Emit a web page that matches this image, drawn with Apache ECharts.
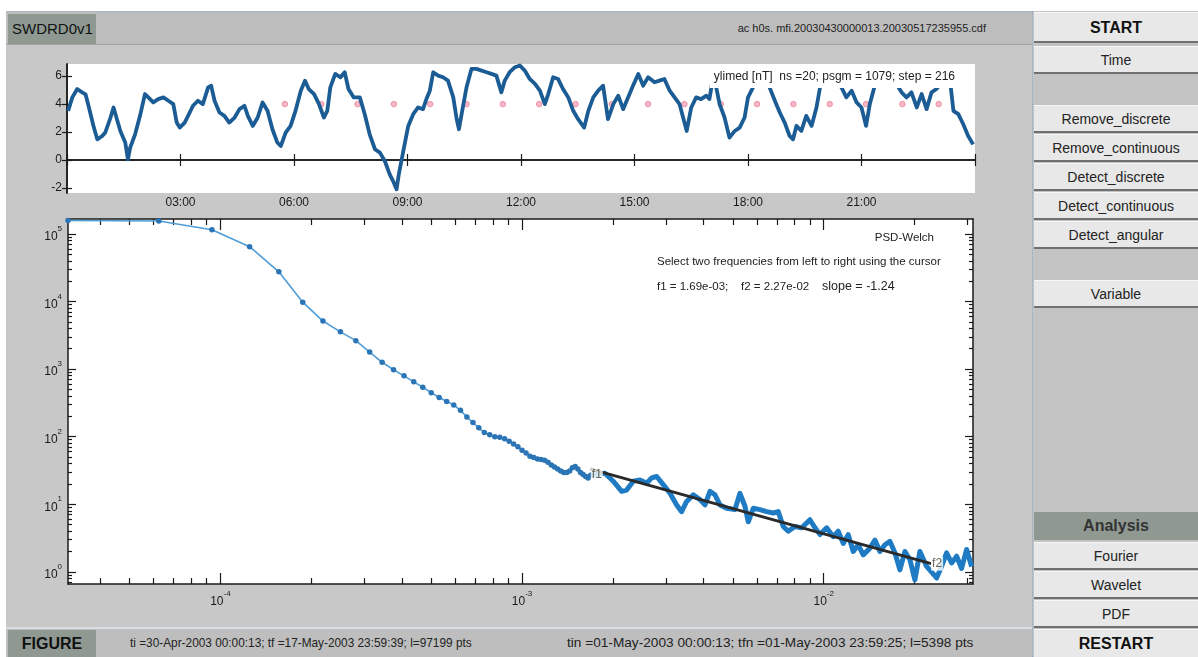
<!DOCTYPE html>
<html>
<head>
<meta charset="utf-8">
<title>SWDRD0v1</title>
<script src="https://cdn.jsdelivr.net/npm/echarts@6/dist/echarts.min.js"></script>
<style>
  html, body { margin: 0; padding: 0; background: #ffffff; overflow: hidden; }
  body { width: 1198px; height: 657px; position: relative; font-family: "Liberation Sans", Arial, sans-serif; color: #1a1a1a; }
  .abs { position: absolute; box-sizing: border-box; }
  #panel { left: 6px; top: 11px; width: 1026px; height: 616px; background: #c8c8c8; border-top: 1px solid #a9b7c4; }
  #header { left: 6px; top: 12px; width: 1026px; height: 33px; background: #bdbdbd; border-bottom: 1px solid #a4a4a4; }
  .tag { background: #8f9992; font-size: 15px; line-height: 30px; color: #111; }
  #fname { left: 600px; top: 12px; width: 386px; height: 33px; line-height: 33px; text-align: right; font-size: 11px; color: #222; }
  #status { left: 6px; top: 627px; width: 1026px; height: 30px; background: #bebebe; border-top: 2px solid #d9dee2; }
  .stat { top: 629px; height: 28px; line-height: 28px; font-size: 13px; color: #222; white-space: nowrap;
          transform-origin: left center; }
  #side { left: 1032px; top: 11px; width: 166px; height: 646px; background: #c3c3c3; border-left: 1px dotted #8fa7c2; }
  .btn { left: 1034px; width: 164px; background: #e8e8e8; border-top: 1px solid #f7f7f7; border-bottom: 2px solid #707070;
         text-align: center; font-size: 14px; color: #222; }
  .bold { font-weight: bold; font-size: 16px; color: #111; }
  #chart { left: 0; top: 0; width: 1198px; height: 657px; }
</style>
</head>
<body>
<div class="abs" id="panel"></div>
<div class="abs" id="header"></div>
<div class="abs tag" style="left:8px;top:14px;width:88px;height:30px;padding-left:4px;">SWDRD0v1</div>
<div class="abs" id="fname">ac h0s. mfi.20030430000013.20030517235955.cdf</div>

<div class="abs" id="status"></div>
<div class="abs tag bold" style="left:8px;top:630px;width:88px;height:27px;line-height:27px;text-align:center;">FIGURE</div>
<div class="abs stat" style="left:130px;transform:scaleX(0.91);">ti =30-Apr-2003 00:00:13; tf =17-May-2003 23:59:39; l=97199 pts</div>
<div class="abs stat" style="left:567px;transform:scaleX(1.05);">tin =01-May-2003 00:00:13; tfn =01-May-2003 23:59:25; l=5398 pts</div>

<div class="abs" id="side"></div>
<div class="abs btn bold" style="top:12px;height:31px;line-height:30px;">START</div>
<div class="abs btn" style="top:46px;height:28px;line-height:27px;">Time</div>
<div class="abs btn" style="top:105px;height:28px;line-height:27px;">Remove_discrete</div>
<div class="abs btn" style="top:134px;height:28px;line-height:27px;">Remove_continuous</div>
<div class="abs btn" style="top:163px;height:28px;line-height:27px;">Detect_discrete</div>
<div class="abs btn" style="top:192px;height:28px;line-height:27px;">Detect_continuous</div>
<div class="abs btn" style="top:221px;height:28px;line-height:27px;">Detect_angular</div>
<div class="abs btn" style="top:280px;height:28px;line-height:27px;">Variable</div>
<div class="abs tag bold" style="left:1034px;top:512px;width:164px;height:28px;line-height:28px;text-align:center;color:#333;">Analysis</div>
<div class="abs btn" style="top:542px;height:28px;line-height:27px;">Fourier</div>
<div class="abs btn" style="top:571px;height:28px;line-height:27px;">Wavelet</div>
<div class="abs btn" style="top:600px;height:28px;line-height:27px;">PDF</div>
<div class="abs btn bold" style="top:629px;height:28px;line-height:28px;border-bottom:none;">RESTART</div>

<div class="abs" id="chart"></div>

<script>
// ---- Field magnitude, median filtered (hours after 00:00, nT) ----
const timeHours = [
  0.03, 0.14, 0.27, 0.40, 0.49, 0.58, 0.71, 0.80, 0.93, 1.01, 1.15, 1.23, 1.32, 1.41, 1.54, 1.61, 1.67, 1.80, 1.93,
  2.06, 2.15, 2.28, 2.41, 2.55, 2.68, 2.81, 2.90, 2.98, 3.11, 3.20, 3.33, 3.46, 3.59, 3.73, 3.81, 3.90,
  4.03, 4.16, 4.29, 4.43, 4.56, 4.69, 4.78, 4.91, 5.04, 5.17, 5.30, 5.43, 5.56, 5.65, 5.78, 5.91,
  6.04, 6.18, 6.29, 6.39, 6.53, 6.66, 6.79, 6.88, 6.96, 7.09, 7.23, 7.34, 7.44, 7.58, 7.74, 7.87,
  8.00, 8.14, 8.27, 8.40, 8.53, 8.62, 8.71, 8.77, 8.89, 9.02, 9.15, 9.28, 9.41, 9.50, 9.59, 9.68, 9.81, 9.94,
  10.07, 10.21, 10.30, 10.36, 10.43, 10.56, 10.69, 10.82, 10.96, 11.09, 11.22, 11.35, 11.48, 11.57, 11.70, 11.84, 11.97,
  12.10, 12.23, 12.37, 12.50, 12.63, 12.72, 12.85, 12.98, 13.11, 13.25, 13.38, 13.51, 13.67, 13.78, 13.91,
  14.04, 14.17, 14.30, 14.44, 14.57, 14.70, 14.83, 14.96, 15.10, 15.23, 15.36, 15.53, 15.66, 15.79, 15.93,
  16.06, 16.19, 16.32, 16.38, 16.50, 16.63, 16.76, 16.90, 16.98, 17.07, 17.16, 17.25, 17.38, 17.51, 17.65, 17.78, 17.91,
  18.00, 18.09, 18.18, 18.31, 18.44, 18.57, 18.71, 18.84, 18.97, 19.10, 19.19, 19.28, 19.41, 19.54, 19.68, 19.81, 19.92, 19.99,
  20.10, 20.30, 20.47, 20.60, 20.74, 20.87, 21.00, 21.12, 21.22, 21.35, 21.49, 21.70, 21.84,
  22.06, 22.19, 22.32, 22.46, 22.59, 22.72, 22.85, 22.98, 23.16, 23.34, 23.43, 23.56, 23.69, 23.82, 23.95
];
const fieldValues = [
  3.52, 4.48, 5.08, 4.84, 4.70, 3.76, 2.32, 1.48, 1.72, 1.96, 3.04, 3.76, 2.92, 2.08, 1.25, 0.05, 0.89, 1.84, 3.16,
  4.72, 4.48, 4.12, 4.36, 4.48, 4.24, 4.00, 2.68, 2.32, 2.68, 3.16, 3.88, 4.24, 4.00, 5.20, 5.32, 4.24,
  3.40, 3.16, 2.68, 3.04, 3.64, 3.88, 3.16, 2.44, 3.04, 4.12, 3.52, 2.20, 1.25, 1.00, 1.96, 2.44,
  3.52, 4.96, 5.68, 5.08, 4.72, 4.00, 3.04, 3.52, 5.20, 6.16, 5.92, 6.28, 5.08, 4.48, 4.48, 3.28,
  1.84, 0.77, 0.53, -0.07, -1.03, -1.51, -2.10, -1.03, 0.65, 2.44, 3.28, 3.76, 3.64, 4.36, 4.96, 6.28, 6.04, 5.92,
  5.68, 4.48, 2.92, 2.20, 3.28, 5.20, 6.52, 6.52, 6.40, 6.28, 6.16, 6.04, 4.84, 5.68, 6.28, 6.64, 6.76,
  6.40, 5.80, 5.44, 4.96, 4.00, 4.72, 5.92, 5.80, 5.08, 4.48, 3.52, 2.92, 2.32, 3.52, 4.48,
  4.96, 5.32, 2.92, 4.00, 4.60, 3.64, 4.48, 5.32, 6.16, 5.32, 5.92, 5.56, 5.68, 5.80, 4.96,
  4.48, 4.00, 2.68, 2.08, 3.76, 4.48, 4.36, 4.60, 4.36, 5.80, 5.20, 4.00, 3.04, 1.60, 2.08, 2.32, 3.04,
  4.48, 4.96, 5.44, 5.32, 5.68, 5.20, 4.24, 3.40, 2.68, 1.72, 1.48, 2.44, 2.08, 3.16, 2.44, 3.76, 5.44, 5.80,
  6.00, 5.90, 5.20, 4.48, 4.96, 4.12, 3.76, 2.44, 4.00, 5.32, 5.68, 6.00, 5.80,
  4.84, 4.48, 4.84, 3.76, 4.72, 3.64, 4.84, 5.08, 5.68, 5.68, 3.52, 3.28, 2.56, 1.72, 1.12
];
// segment markers (hours) drawn at the segment level
const segmentTimes = [5.76, 6.72, 7.68, 8.64, 9.60, 10.56, 11.52, 12.48, 13.44, 14.40, 15.36, 16.32,
                      17.28, 18.24, 19.20, 20.16, 21.12, 22.08, 23.04];
const segmentLevel = 4;
const timeTicks = [3, 6, 9, 12, 15, 18, 21];
const fieldTicks = [-2, 0, 2, 4, 6];

// ---- Welch power spectral density ----
const psdBinWidth = 3.125e-5; // Hz
const psdLowBins = [1, 2, 3, 4, 5, 6, 7, 8, 9, 10, 11, 12, 13, 14, 15, 16, 17, 18, 19, 20, 21, 22, 23, 24, 25, 26, 27,
  28, 29, 30, 31, 32, 33, 34, 35, 36, 37, 38, 39, 40, 41, 42, 43, 44, 45, 46, 47, 48, 49, 50, 51, 52, 53, 54];
const psdLowPower = [158000, 155000, 115000, 64600, 27500, 9770, 5130, 3550, 2630, 1780, 1260, 977, 794, 646, 537,
  447, 380, 331, 295, 245, 195, 162, 135, 115, 107, 100, 97.7, 93.3, 85.1, 77.6, 70.8, 63.1, 57.5, 51.3, 49.0,
  46.8, 45.7, 44.7, 41.7, 38.0, 35.5, 33.1, 30.9, 29.5, 29.5, 30.9, 34.7, 36.3, 33.1, 29.5, 27.5, 25.7, 24.5, 26.9];
const psdHighFreq = [1.883e-3, 2.006e-3, 2.139e-3, 2.222e-3, 2.337e-3, 2.459e-3, 2.588e-3, 2.689e-3, 2.794e-3,
  2.939e-3, 3.093e-3, 3.255e-3, 3.381e-3, 3.512e-3, 3.694e-3, 3.888e-3, 4.040e-3, 4.196e-3, 4.360e-3, 4.530e-3,
  4.767e-3, 5.078e-3, 5.276e-3, 5.482e-3, 5.621e-3, 5.840e-3, 6.146e-3, 6.468e-3, 6.803e-3, 7.067e-3, 7.342e-3,
  7.627e-3, 8.027e-3, 8.449e-3, 9.001e-3, 9.354e-3, 9.719e-3, 1.0226e-2, 1.0755e-2, 1.1173e-2, 1.1608e-2,
  1.2058e-2, 1.2528e-2, 1.3015e-2, 1.3521e-2, 1.4230e-2, 1.4784e-2, 1.5357e-2, 1.5955e-2, 1.6576e-2, 1.7218e-2,
  1.7889e-2, 1.8586e-2, 1.9308e-2, 2.0058e-2, 2.0839e-2, 2.1938e-2, 2.3667e-2, 2.4587e-2, 2.5546e-2, 2.6544e-2,
  2.7578e-2, 2.8647e-2, 2.9763e-2, 3.0920e-2];
const psdHighPower = [28.8, 21.9, 15.5, 16.2, 21.9, 22.9, 20.4, 24.5, 25.7, 19.5, 14.5, 9.77, 7.76, 11.0, 13.8,
  11.7, 9.77, 15.5, 13.8, 9.77, 8.71, 8.32, 14.5, 9.33, 5.50, 8.71, 8.32, 7.76, 7.41, 7.76, 4.68, 3.98, 4.68,
  4.47, 5.89, 4.47, 3.55, 4.47, 3.31, 3.98, 2.63, 3.55, 2.00, 2.51, 1.78, 2.24, 2.95, 2.00, 2.51, 2.82, 1.91,
  1.07, 2.00, 1.51, 0.76, 2.00, 1.20, 0.81, 1.20, 1.91, 1.35, 1.70, 1.12, 2.14, 1.20];
const psdFreqTicks = [1e-4, 1e-3, 1e-2];
const psdPowerTicks = [1, 10, 100, 1000, 10000, 100000];

// power-law fit between the two selected frequencies
const fitF1 = 1.69e-3;
const fitF2 = 2.27e-2;
const fitSlope = -1.24;
const fitPowerAtF1 = 33.1;
const fitPowerAtF2 = fitPowerAtF1 * Math.pow(fitF2 / fitF1, fitSlope);

// ---- helpers ----
function pad2(n) { return (n < 10 ? '0' : '') + n; }
function minorLogTicks(lo, hi) {
  const out = [];
  for (let d = Math.floor(Math.log10(lo)); d <= Math.ceil(Math.log10(hi)); d++) {
    for (let m = 2; m <= 9; m++) {
      const v = m * Math.pow(10, d);
      if (v > lo && v < hi) out.push(v);
    }
  }
  return out;
}
function powerLabel(v) {
  const e = Math.round(Math.log10(v));
  return '{b|10}{e|' + e + '}';
}
function sci(v) {
  // MATLAB style exponent with two digits, e.g. 1.69e-03
  const s = v.toExponential(2).split('e');
  const exp = parseInt(s[1], 10);
  return s[0] + 'e' + (exp < 0 ? '-' : '+') + pad2(Math.abs(exp));
}
const FONT = '"Liberation Sans", Arial, sans-serif';
const INK = '#1a1a1a';
const powRich = {
  b: { fontFamily: FONT, fontSize: 12, color: INK, lineHeight: 18, verticalAlign: 'bottom' },
  e: { fontFamily: FONT, fontSize: 8, color: INK, lineHeight: 18, verticalAlign: 'top' }
};

const fieldSeries = timeHours.map((t, i) => [t, fieldValues[i]]);
const segmentSeries = segmentTimes.map(t => [t, segmentLevel]);
const psdLowSeries = psdLowBins.map((k, i) => [k * psdBinWidth, psdLowPower[i]]);
const psdHighSeries = [psdLowSeries[psdLowSeries.length - 1]].concat(psdHighFreq.map((f, i) => [f, psdHighPower[i]]));

const fMin = 3.125e-5, fMax = 3.125e-2;
const pMin = 0.66, pMax = 166000;
const fMinor = minorLogTicks(fMin, fMax);
const pMinor = minorLogTicks(pMin, pMax);

const frame = { show: true, lineStyle: { color: INK, width: 1.5 } };
const noLine = { show: false };

function timeAxis(pos, labels) {
  return {
    type: 'value', gridIndex: 0, position: pos, min: 0, max: 24, interval: 3,
    axisLine: frame, splitLine: { show: false },
    axisTick: { inside: true, length: 6, lineStyle: { color: INK, width: 1.2 } },
    axisLabel: labels ? {
      show: true, color: INK, fontFamily: FONT, fontSize: 12, margin: 4,
      customValues: timeTicks, formatter: v => pad2(v) + ':00'
    } : { show: false }
  };
}
function fieldAxis(pos, labels) {
  return {
    type: 'value', gridIndex: 0, position: pos, min: -2.36, max: 6.87,
    axisLine: frame, splitLine: { show: false },
    axisTick: { inside: true, length: 5, customValues: fieldTicks, lineStyle: { color: INK, width: 1.2 } },
    axisLabel: labels ? { show: true, color: INK, fontFamily: FONT, fontSize: 12, margin: 5, customValues: fieldTicks }
                      : { show: false }
  };
}
function freqAxis(pos, major, labels) {
  return {
    type: 'log', logBase: 10, gridIndex: 1, position: pos, min: fMin, max: fMax,
    axisLine: major ? frame : noLine, splitLine: { show: false }, minorTick: { show: false },
    axisTick: { inside: true, length: major ? 11 : 6, customValues: major ? psdFreqTicks : fMinor,
                lineStyle: { color: INK, width: 1.2 } },
    axisLabel: labels ? { show: true, customValues: psdFreqTicks, formatter: powerLabel, rich: powRich, margin: 6 }
                      : { show: false }
  };
}
function powerAxis(pos, major, labels) {
  return {
    type: 'log', logBase: 10, gridIndex: 1, position: pos, min: pMin, max: pMax,
    axisLine: major ? frame : noLine, splitLine: { show: false }, minorTick: { show: false },
    axisTick: { inside: true, length: major ? 8 : 4, customValues: major ? psdPowerTicks : pMinor,
                lineStyle: { color: INK, width: 1.2 } },
    axisLabel: labels ? { show: true, customValues: psdPowerTicks, formatter: powerLabel, rich: powRich, margin: 6 }
                      : { show: false }
  };
}

const chart = echarts.init(document.getElementById('chart'), null, { renderer: 'canvas' });
chart.setOption({
  backgroundColor: 'transparent',
  animation: false,
  grid: [
    { left: 67, top: 64, width: 908, height: 129, show: true, backgroundColor: '#ffffff', borderWidth: 0 },
    { left: 68, top: 219, width: 905, height: 365, show: true, backgroundColor: '#ffffff', borderWidth: 0 }
  ],
  xAxis: [
    timeAxis('bottom', true), timeAxis('top', false),
    freqAxis('bottom', true, true), freqAxis('bottom', false, false),
    freqAxis('top', true, false), freqAxis('top', false, false)
  ],
  yAxis: [
    fieldAxis('left', true), fieldAxis('right', false),
    powerAxis('left', true, true), powerAxis('left', false, false),
    powerAxis('right', true, false), powerAxis('right', false, false)
  ],
  graphic: [
    { type: 'text', x: 957, y: 77, z: 100,
      style: { text: 'ylimed [nT]  ns =20; psgm = 1079; step = 216', font: '12px ' + FONT, fill: '#222',
               textAlign: 'right', textVerticalAlign: 'middle', backgroundColor: '#ffffff', padding: [5, 2, 5, 4] } },
    { type: 'text', x: 934, y: 238, z: 100,
      style: { text: 'PSD-Welch', font: '11.5px ' + FONT, fill: '#222', textAlign: 'right', textVerticalAlign: 'middle' } },
    { type: 'text', x: 657, y: 262, z: 100,
      style: { text: 'Select two frequencies from left to right using the cursor', font: '11.5px ' + FONT, fill: '#222',
               textAlign: 'left', textVerticalAlign: 'middle' } },
    { type: 'text', x: 657, y: 287, z: 100,
      style: { text: 'f1 = ' + sci(fitF1) + ';    f2 = ' + sci(fitF2),
               font: '11.5px ' + FONT, fill: '#222', textAlign: 'left', textVerticalAlign: 'middle' } },
    { type: 'text', x: 822, y: 287, z: 100,
      style: { text: 'slope = ' + fitSlope.toFixed(2), font: '12.5px ' + FONT, fill: '#222',
               textAlign: 'left', textVerticalAlign: 'middle' } }
  ],
  series: [
    { type: 'scatter', name: 'segments', xAxisIndex: 0, yAxisIndex: 0, data: segmentSeries, z: 2,
      symbol: 'circle', symbolSize: 5.5, itemStyle: { color: '#f7a6b9', borderColor: '#ec7f99', borderWidth: 1 } },
    { type: 'line', name: 'ylimed', xAxisIndex: 0, yAxisIndex: 0, data: fieldSeries, z: 3,
      showSymbol: false, symbol: 'none', lineStyle: { color: '#1c5c94', width: 3.8, join: 'round' } },
    { type: 'line', name: 'psd-low', xAxisIndex: 2, yAxisIndex: 2, data: psdLowSeries, z: 3,
      symbol: 'circle', symbolSize: 5.5, showAllSymbol: true,
      lineStyle: { color: '#4f9dd8', width: 1.6 }, itemStyle: { color: '#2b74b5', borderWidth: 0 } },
    { type: 'line', name: 'psd-high', xAxisIndex: 2, yAxisIndex: 2, data: psdHighSeries, z: 3,
      symbol: 'none', lineStyle: { color: '#1f7cc4', width: 5, join: 'round' } },
    { type: 'line', name: 'fit', xAxisIndex: 2, yAxisIndex: 2, data: [[fitF1, fitPowerAtF1], [fitF2, fitPowerAtF2]], z: 5,
      symbol: 'none', lineStyle: { color: '#2a2a2a', width: 3 } },
    { type: 'scatter', name: 'marks', xAxisIndex: 2, yAxisIndex: 2, z: 6, symbolSize: 0,
      data: [
        { value: [fitF1, psdLowPower[psdLowPower.length - 1]], label: { formatter: 'f1' } },
        { value: [fitF2, fitPowerAtF2], label: { formatter: 'f2' } }
      ],
      label: { show: true, position: 'right', distance: 0, color: '#3c3f2c', fontFamily: FONT, fontSize: 12,
               backgroundColor: '#ffffff', padding: [1, 1] } }
  ]
});
</script>
</body>
</html>
